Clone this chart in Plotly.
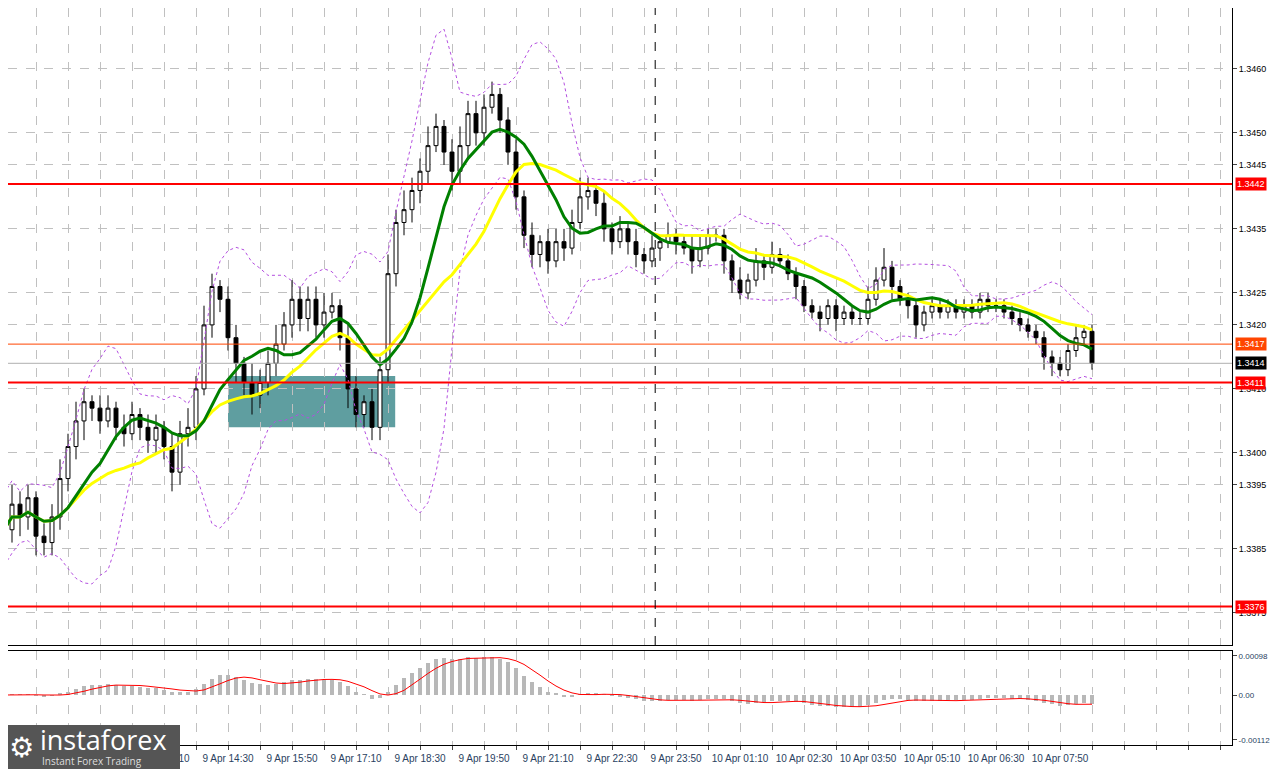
import plotly.graph_objects as go
import pandas as pd
import numpy as np

# 10-minute candles, first one at 9 Apr 09:50
closes = [1.3388, 1.3392, 1.3390, 1.3393, 1.3387, 1.3386, 1.3390, 1.3396, 1.3401, 1.3405,
          1.3408, 1.3407, 1.3405, 1.3407, 1.3404, 1.3403, 1.3406, 1.3404, 1.3402, 1.3404,
          1.3401, 1.3397, 1.3403, 1.3404, 1.3410, 1.3420, 1.3426, 1.3424, 1.3418, 1.3414,
          1.3411, 1.3409, 1.3411, 1.3414, 1.3417, 1.3420, 1.3424, 1.3421, 1.3424, 1.3420,
          1.3422, 1.3423, 1.3418, 1.3410, 1.3406, 1.3408, 1.3404, 1.3413, 1.3428, 1.3436,
          1.3438, 1.3441, 1.3444, 1.3448, 1.3451, 1.3447, 1.3444, 1.3448, 1.3453, 1.3450,
          1.3454, 1.3456, 1.3452, 1.3447, 1.3440, 1.3434, 1.3431, 1.3433, 1.3430, 1.3433,
          1.3432, 1.3436, 1.3440, 1.3441, 1.3439, 1.3435, 1.3433, 1.3435, 1.3433, 1.3431,
          1.3430, 1.3432, 1.3433, 1.3434, 1.3433, 1.3432, 1.3430, 1.3432, 1.3434, 1.3434,
          1.3430, 1.3427, 1.3425, 1.3427, 1.3430, 1.3429, 1.3431, 1.3430, 1.3428, 1.3426,
          1.3423, 1.3422, 1.3421, 1.3423, 1.3421, 1.3422, 1.3421, 1.3421, 1.3424, 1.3427,
          1.3429, 1.3426, 1.3424, 1.3423, 1.3420, 1.3422, 1.3423, 1.3422, 1.3423, 1.3422,
          1.3423, 1.3422, 1.3424, 1.3423, 1.3423, 1.3422, 1.3421, 1.3420, 1.3419, 1.3418,
          1.3415, 1.3414, 1.3413, 1.3416, 1.3418, 1.3419, 1.3414]
first_open = 1.3390
# wick sizes in pips above / below the body
wick_up = [2, 3, 2, 2, 1, 2, 2, 3, 2, 3, 2, 1, 2, 2, 1, 2, 2, 1, 2, 2,
           1, 2, 2, 3, 2, 3, 2, 1, 2, 2, 1, 3, 2, 2, 3, 2, 3, 2, 2, 2,
           3, 2, 1, 2, 2, 1, 2, 2, 3, 2, 3, 2, 2, 3, 2, 1, 2, 3, 2, 2,
           2, 2, 1, 2, 2, 1, 2, 1, 2, 2, 2, 2, 3, 2, 1, 2, 1, 2, 1, 2,
           1, 2, 1, 2, 1, 1, 2, 2, 1, 1, 1, 1, 2, 1, 2, 1, 2, 1, 1, 1,
           1, 1, 1, 1, 1, 1, 1, 1, 2, 2, 3, 1, 1, 1, 1, 1, 1, 1, 1, 1,
           1, 1, 1, 1, 1, 1, 1, 1, 1, 1, 1, 1, 1, 1, 2, 1, 1]
wick_dn = [2, 2, 3, 2, 3, 2, 2, 2, 2, 2, 3, 2, 2, 1, 2, 2, 1, 2, 2, 2,
           2, 3, 2, 2, 2, 1, 2, 2, 2, 3, 2, 3, 2, 2, 2, 1, 2, 2, 2, 2,
           2, 1, 2, 3, 2, 2, 2, 2, 2, 2, 2, 2, 2, 2, 1, 2, 3, 2, 2, 2,
           2, 1, 2, 2, 2, 2, 2, 2, 2, 1, 2, 1, 1, 2, 2, 2, 2, 1, 2, 2,
           2, 1, 2, 1, 2, 1, 2, 1, 1, 1, 2, 2, 1, 1, 1, 2, 1, 1, 1, 2,
           1, 1, 2, 1, 2, 1, 1, 1, 1, 1, 1, 2, 1, 2, 2, 1, 1, 1, 1, 1,
           1, 1, 1, 1, 1, 1, 1, 1, 1, 1, 2, 2, 1, 1, 1, 1, 1]

# labels sit on candles 4, 12, 20, ...
tick_labels = ['9 Apr 10:30', '9 Apr 11:50', '9 Apr 13:10', '9 Apr 14:30', '9 Apr 15:50',
               '9 Apr 17:10', '9 Apr 18:30', '9 Apr 19:50', '9 Apr 21:10', '9 Apr 22:30', '9 Apr 23:50',
               '10 Apr 01:10', '10 Apr 02:30', '10 Apr 03:50', '10 Apr 05:10', '10 Apr 06:30', '10 Apr 07:50']
price_ticks = [1.3470, 1.3460, 1.3450, 1.3445, 1.3435, 1.3425, 1.3420, 1.3410, 1.3400, 1.3395, 1.3385, 1.3375]
red_levels = [1.3442, 1.3411, 1.3376]
bid, last = 1.3417, 1.3414
box_x = [28, 48.9]
box_y = [1.3404, 1.3412]

n = len(closes)
x = np.arange(n)
c = pd.Series(closes)
o = c.shift(1).fillna(first_open)
hi = np.maximum(o, c) + np.array(wick_up) * 0.0001
lo = np.minimum(o, c) - np.array(wick_dn) * 0.0001

ma_fast = c.rolling(9, min_periods=1).mean()
ma_slow = c.rolling(18, min_periods=1).mean()
bb_mid = c.rolling(10, min_periods=1).mean()
bb_std = c.rolling(10, min_periods=2).std().bfill()
macd = c.ewm(span=10).mean() - c.ewm(span=22).mean()
signal = macd.rolling(5, min_periods=1).mean()

fig = go.Figure()
fig.add_shape(type='rect', x0=box_x[0], x1=box_x[1], y0=box_y[0], y1=box_y[1],
              fillcolor='#5f9ea0', line_width=0, layer='below', xref='x', yref='y')
for lv in red_levels:
    fig.add_hline(y=lv, line_color='#ff0000', line_width=2, yref='y')
fig.add_hline(y=bid, line_color='#ff4500', line_width=1)
fig.add_hline(y=last, line_color='#b0b0b0', line_width=1)

fig.add_trace(go.Scatter(x=x, y=bb_mid + 2 * bb_std, mode='lines', line=dict(color='#b44fe0', width=1, dash='dot')))
fig.add_trace(go.Scatter(x=x, y=bb_mid - 2 * bb_std, mode='lines', line=dict(color='#b44fe0', width=1, dash='dot')))
fig.add_trace(go.Candlestick(x=x, open=o, high=hi, low=lo, close=c, whiskerwidth=0,
                             increasing=dict(fillcolor='white', line=dict(color='black', width=1)),
                             decreasing=dict(fillcolor='black', line=dict(color='black', width=1))))
fig.add_trace(go.Scatter(x=x, y=ma_slow, mode='lines', line=dict(color='#ffff00', width=3)))
fig.add_trace(go.Scatter(x=x, y=ma_fast, mode='lines', line=dict(color='#008000', width=3)))

fig.add_trace(go.Bar(x=x, y=macd, marker_color='#b8b8b8', marker_line_width=0, width=0.6, xaxis='x2', yaxis='y2'))
fig.add_trace(go.Scatter(x=x, y=signal, mode='lines', line=dict(color='#ff0000', width=1), xaxis='x2', yaxis='y2'))

fig.add_vline(x=81.4, line_color='black', line_width=1, line_dash='dash')

tickvals = list(range(0, 154, 4))
ticktext = []
for i in tickvals:
    k = (i - 4) // 8
    ticktext.append(tick_labels[k] if (i - 4) % 8 == 0 and 0 <= k < len(tick_labels) else '')
font = dict(family='Liberation Sans', size=9, color='black')
xr = [0.5, 153.5]
H = 745
W = 1224
fig.update_layout(
    width=1272, height=761, margin=dict(l=0, r=48, t=0, b=16, autoexpand=False),
    paper_bgcolor='white', plot_bgcolor='white', showlegend=False, bargap=0,
    xaxis=dict(range=xr, rangeslider=dict(visible=False), tickvals=tickvals, showticklabels=False,
               showgrid=True, gridcolor='#c0c0c0', griddash='dash', showline=True, linecolor='black',
               mirror=True, domain=[0, 1], anchor='y', automargin=False),
    yaxis=dict(range=[1.3370, 1.34695], side='right', tickvals=price_ticks,
               ticktext=[f'{v:.4f}' for v in price_ticks], automargin=False,
               showgrid=True, gridcolor='#c0c0c0', griddash='dash', showline=True, linecolor='black',
               mirror=True, ticks='outside', ticklen=4, tickfont=font, domain=[1 - 637 / H, 1]),
    xaxis2=dict(range=xr, tickvals=tickvals, ticktext=ticktext, tickfont=dict(family='Liberation Sans', size=10),
                anchor='y2', showgrid=True, gridcolor='#c0c0c0', griddash='dash', showline=True,
                linecolor='black', mirror=True, ticks='outside', ticklen=4, tickangle=0, automargin=False),
    yaxis2=dict(range=[-0.00125, 0.00110], side='right', tickvals=[0.00098, 0, -0.00112],
                ticktext=['0.00098', '0.00', '-0.00112'], showgrid=False, showline=True, linecolor='black',
                mirror=True, ticks='outside', ticklen=4, tickfont=dict(family='Liberation Sans', size=8),
                domain=[1 - 737 / H, 1 - 643 / H], automargin=False),
)

# price tags on the right axis
for lv, bg in [(1.3442, '#ff0000'), (1.3411, '#ff0000'), (1.3376, '#ff0000'),
               (bid, '#ff4500'), (last, 'black')]:
    fig.add_annotation(x=1, xref='paper', y=lv, yref='y', xanchor='left', showarrow=False,
                       text=f'{lv:.4f}', font=dict(family='Liberation Sans', size=9, color='white'),
                       bgcolor=bg, borderpad=1, xshift=3)

# logo
fig.add_shape(type='rect', xref='paper', yref='paper', x0=0, x1=172 / W, y0=-16 / H, y1=28 / H,
              fillcolor='#555555', line_width=0)
fig.add_annotation(x=30 / W, y=14 / H, xref='paper', yref='paper', xanchor='left', yanchor='middle',
                   showarrow=False, text='instaforex', font=dict(family='Open Sans', size=27, color='white'))
fig.add_annotation(x=32 / W, y=-8 / H, xref='paper', yref='paper', xanchor='left', yanchor='middle',
                   showarrow=False, text='Instant Forex Trading', font=dict(family='Open Sans', size=10, color='#dddddd'))
fig.add_annotation(x=13 / W, y=6 / H, xref='paper', yref='paper', xanchor='center', yanchor='middle',
                   showarrow=False, text='⚙', font=dict(family='DejaVu Sans', size=28, color='white'))

fig.write_html("out.html")
